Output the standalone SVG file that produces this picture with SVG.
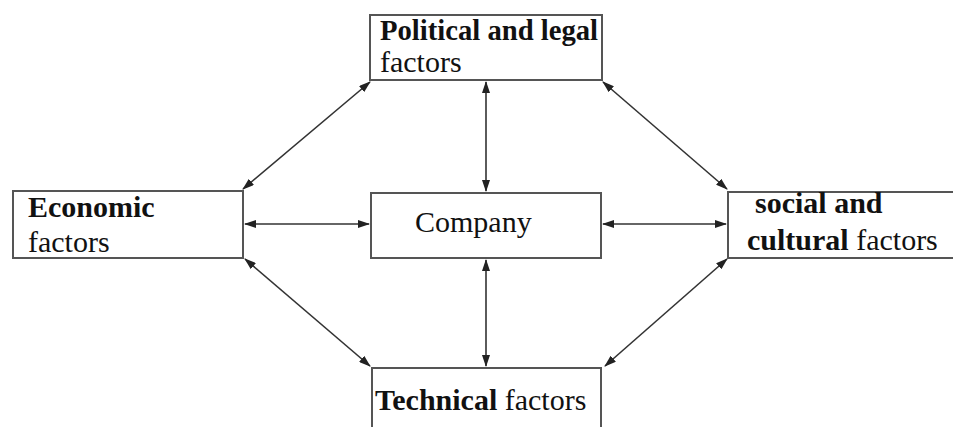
<svg xmlns="http://www.w3.org/2000/svg" width="953" height="427" viewBox="0 0 953 427">
<defs>
<marker id="ah" markerUnits="userSpaceOnUse" markerWidth="12" markerHeight="8" refX="11" refY="4" orient="auto-start-reverse">
<path d="M0,0 L12,4 L0,8 z" fill="#222"/>
</marker>
</defs>
<style>
.box{fill:#fff;stroke:#555;stroke-width:2}
.t{font-family:"Liberation Serif","Times New Roman",serif;fill:#111;font-size:30px}
.b{font-weight:bold}
.c{fill:none;stroke:#333;stroke-width:1.6;marker-start:url(#ah);marker-end:url(#ah)}
</style>
<rect width="953" height="427" fill="#fff"/>
<g id="connectors">
<line class="c" x1="486" y1="82" x2="486" y2="191"/>
<line class="c" x1="486" y1="260" x2="486" y2="366"/>
<line class="c" x1="245" y1="224" x2="369" y2="224"/>
<line class="c" x1="603" y1="224" x2="726" y2="224"/>
<line class="c" x1="370" y1="82" x2="243" y2="189"/>
<line class="c" x1="603" y1="82" x2="727" y2="189"/>
<line class="c" x1="245" y1="259" x2="370" y2="366"/>
<line class="c" x1="605" y1="366" x2="727" y2="259"/>
</g>
<g id="political">
<rect class="box" x="370" y="15" width="232" height="65"/>
<text class="t b" x="380" y="40" font-size="28" textLength="218" lengthAdjust="spacingAndGlyphs">Political and legal</text>
<text class="t" x="380" y="72" font-size="28">factors</text>
</g>
<g id="economic">
<rect class="box" x="13" y="191" width="230" height="67"/>
<text class="t b" x="28" y="217">Economic</text>
<text class="t" x="28" y="252">factors</text>
</g>
<g id="company">
<rect class="box" x="371" y="193" width="230" height="65"/>
<text class="t" x="415" y="232">Company</text>
</g>
<g id="social">
<rect class="box" x="728" y="192" width="235" height="66"/>
<text class="t b" x="755" y="213">social and</text>
<text class="t" x="747" y="250"><tspan class="b">cultural</tspan> factors</text>
</g>
<g id="technical">
<rect class="box" x="372" y="368" width="229" height="70"/>
<text class="t" x="375" y="410"><tspan class="b">Technical</tspan> factors</text>
</g>
</svg>
